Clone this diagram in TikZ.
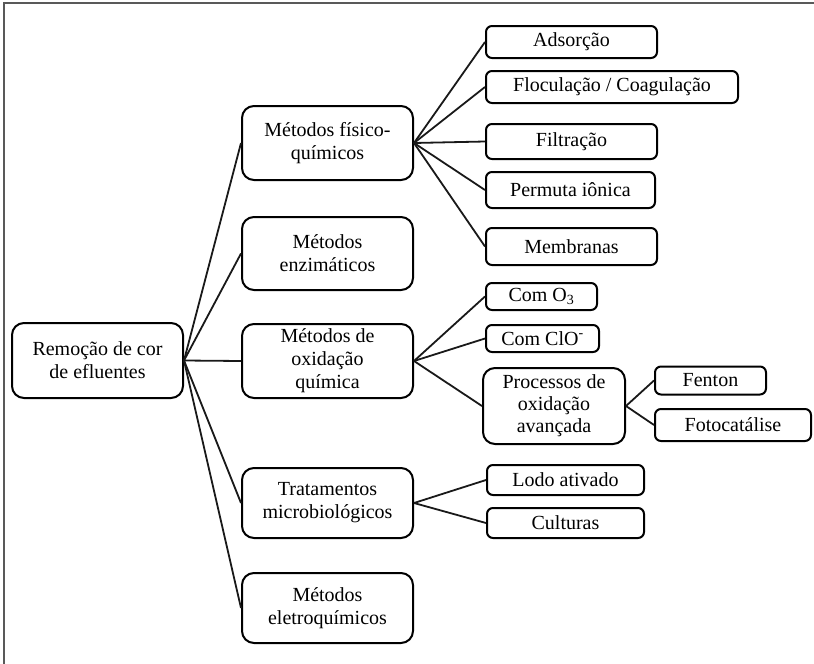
\documentclass[tikz,border=0pt]{standalone}
\usepackage{fontspec}
\setmainfont{Liberation Serif}
\tikzset{
  bx/.style={draw=black, line width=2pt, inner sep=0pt, align=center,
    font=\fontsize{20}{23}\selectfont, text=black},
  bigbox/.style={bx, rounded corners=12pt, minimum width=171pt},
  smallbox/.style={bx, rounded corners=6pt},
  link/.style={draw=black!90, line width=1.8pt},
}
\begin{document}
\begin{tikzpicture}[x=1pt,y=-1pt]
\useasboundingbox (0,0) rectangle (814,664);
\draw[line width=2pt, black!65] (4,664) -- (4,3) -- (814,3);

% level 0
\node[bigbox, minimum height=75pt] (root) at (97.5,360.5) {Remoção de cor\\de efluentes};

% level 1
\node[bigbox, minimum height=74pt] (fq)  at (327.5,143)   {Métodos físico-\\químicos};
\node[bigbox, minimum height=73pt] (enz) at (327.5,253.5) {Métodos\\enzimáticos};
\node[bigbox, minimum height=74pt] (oxi) at (327.5,361)   {Métodos de\\oxidação\\química};
\node[bigbox, minimum height=70pt] (mic) at (327.5,503)   {Tratamentos\\microbiológicos};
\node[bigbox, minimum height=70pt] (ele) at (327.5,608)   {Métodos\\eletroquímicos};

% level 2 physico-chemical
\node[smallbox, minimum width=171pt, minimum height=32pt] (ads) at (571.5,42)  {Adsorção};
\node[smallbox, minimum width=252pt, minimum height=32pt] (flo) at (612,87)    {Floculação / Coagulação};
\node[smallbox, minimum width=171pt, minimum height=35pt] (fil) at (571.5,141.5) {Filtração};
\node[smallbox, minimum width=169pt, minimum height=36pt] (per) at (570.5,190) {Permuta iônica};
\node[smallbox, minimum width=171pt, minimum height=37pt] (mem) at (571.5,246.5) {Membranas};

% level 2 oxidation
\node[smallbox, minimum width=111pt, minimum height=27pt] (o3)  at (541.5,296.5) {Com O\textsubscript{3}};
\node[smallbox, minimum width=113pt, minimum height=27pt] (clo) at (542.5,338.5) {Com ClO\textsuperscript{-}};
\node[bx, rounded corners=12pt, minimum width=142pt, minimum height=76pt,
      font=\fontsize{20}{22}\selectfont] (poa) at (554,406) {Processos de\\oxidação\\avançada};

% level 3
\node[smallbox, minimum width=111pt, minimum height=28pt] (fen) at (710.5,380.5) {Fenton};
\node[smallbox, minimum width=156pt, minimum height=32pt] (fot) at (733,425)   {Fotocatálise};

% level 2 microbiological
\node[smallbox, minimum width=157pt, minimum height=30pt] (lod) at (565.5,480) {Lodo ativado};
\node[smallbox, minimum width=157pt, minimum height=30pt] (cul) at (565.5,523) {Culturas};

% connectors
\foreach \t in {fq,enz,oxi,mic,ele} \draw[link] (root.east) -- (\t.west);
\foreach \t in {ads,flo,fil,per,mem} \draw[link] (fq.east) -- (\t.west);
\foreach \t in {o3,clo,poa} \draw[link] (oxi.east) -- (\t.west);
\foreach \t in {fen,fot} \draw[link] (poa.east) -- (\t.west);
\foreach \t in {lod,cul} \draw[link] (mic.east) -- (\t.west);
\end{tikzpicture}
\end{document}
